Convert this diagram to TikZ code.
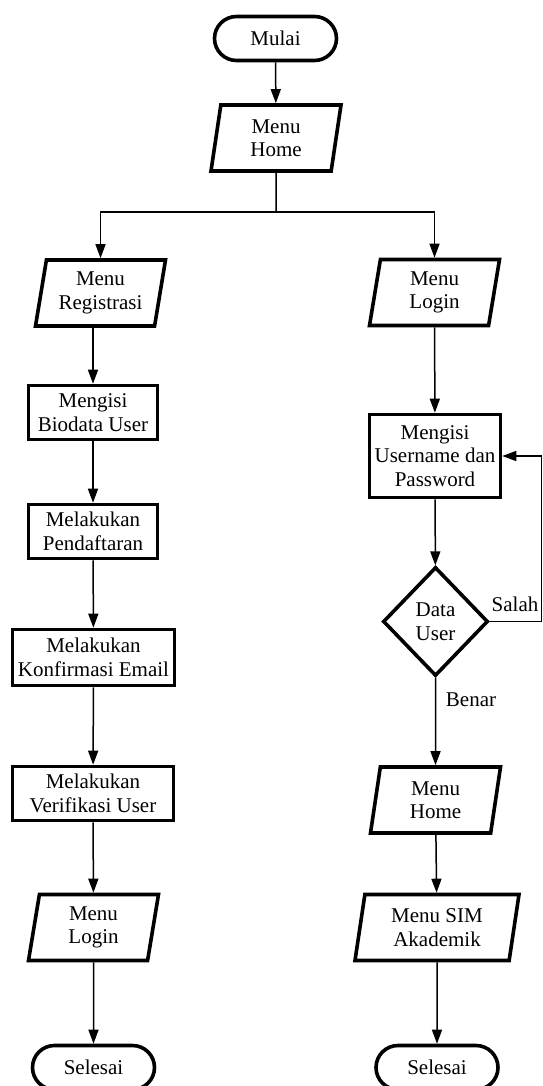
\documentclass[tikz,border=0pt]{standalone}
\usepackage{fontspec}
\setmainfont{Liberation Serif}
\usetikzlibrary{shapes.geometric}
\usetikzlibrary{arrows.meta}
\newcommand{\boxline}{3.6pt}
\tikzset{box/.style={draw,line width=\boxline,rectangle,align=center,inner sep=1pt,minimum width=#1},box/.default=128pt}
\tikzset{io/.style={draw,line width=\boxline,trapezium,trapezium left angle=76,trapezium right angle=104,trapezium stretches body,align=center,inner sep=1pt,minimum height=66pt,minimum width=#1},io/.default=128pt}
\tikzset{term/.style={draw,line width=\boxline,rounded rectangle,minimum width=124pt,minimum height=44pt,inner sep=1pt}}
\tikzset{cond/.style={draw,line width=\boxline,diamond,align=center,minimum width=105pt,minimum height=109pt,inner sep=0pt}}
\tikzset{flow/.style={line width=1.5pt,-{Triangle[length=14pt,width=10pt]}}}
\usetikzlibrary{shapes.misc}

\begin{document}
\begin{tikzpicture}[x=1pt,y=-1pt,font=\fontsize{21}{23.5}\selectfont]

		\useasboundingbox (0,0) rectangle (543,1086);

		\coordinate (fork) at (276,212);
		\coordinate (back) at (541.5,456);

		\node [term] (mulai) at (275.5,38.5) {Mulai};
		\node [io=130pt] (home) at (276,138) {Menu\\Home};

		\node [io=130pt] (reg) at (100.5,293) {Menu\\Registrasi};
		\node [box=129pt,minimum height=54pt] (bio) at (93,412.5) {Mengisi\\Biodata User};
		\node [box=129pt,minimum height=54pt] (daftar) at (93,531.5) {Melakukan\\Pendaftaran};
		\node [box=162pt,minimum height=56pt] (email) at (93.5,657.5) {Melakukan\\Konfirmasi Email};
		\node [box=161pt,minimum height=54pt] (verif) at (93,793.5) {Melakukan\\Verifikasi User};
		\node [io=130pt] (loginL) at (93.5,927.5) {Menu\\Login};
		\node [term] (endL) at (93.5,1067.5) {Selesai};

		\node [io=130pt] (loginR) at (434.5,292.5) {Menu\\Login};
		\node [box=131pt,minimum height=83pt] (user) at (435,456) {Mengisi\\Username dan\\Password};
		\node [cond] (cek) at (435.5,621.5) {Data\\User};
		\node [io=130pt] (homeR) at (435.5,800) {Menu\\Home};
		\node [io=164pt] (sim) at (437,927.5) {Menu SIM\\Akademik};
		\node [term] (endR) at (437,1067.5) {Selesai};

		\node [inner sep=0pt] (salah) at (515,604) {Salah};
		\node [inner sep=0pt] (benar) at (471,700) {Benar};

		\draw [flow] (mulai) -- (home);
		\draw [line width=1.5pt] (home.south) -- (fork);
		\draw [flow] (fork) -| (reg.north);
		\draw [flow] (fork) -| (loginR.north);

		\draw [flow] (reg.south -| bio.north) -- (bio.north);
		\draw [flow] (bio) -- (daftar);
		\draw [flow] (daftar) -- (email);
		\draw [flow] (email) -- (verif);
		\draw [flow] (verif) -- (loginL);
		\draw [flow] (loginL) -- (endL);

		\draw [flow] (loginR) -- (user);
		\draw [flow] (user) -- (cek);
		\draw [flow] (cek) -- (homeR);
		\draw [flow] (homeR) -- (sim);
		\draw [flow] (sim) -- (endR);
		\draw [flow] (cek.east) -| (back) -- (user.east);

\end{tikzpicture}
\end{document}
